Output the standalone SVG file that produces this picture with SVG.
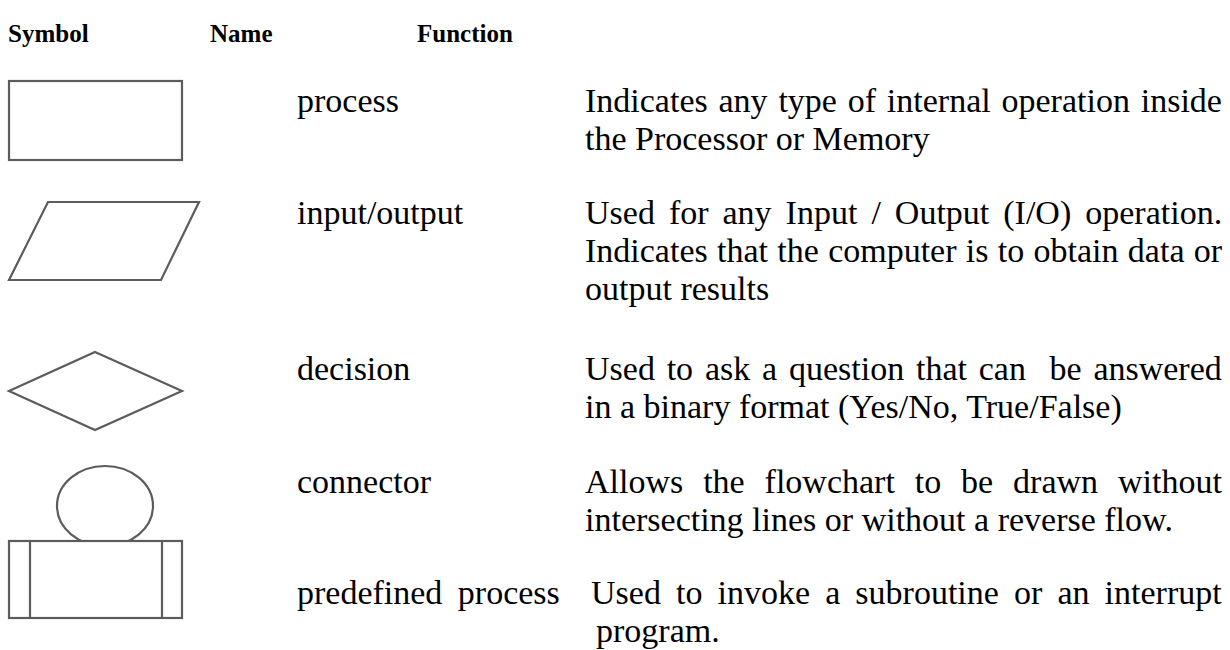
<svg xmlns="http://www.w3.org/2000/svg" width="1230" height="650" viewBox="0 0 1230 650">
  <style>
    text { font-family: 'Liberation Serif', 'Tinos', 'Times New Roman', 'DejaVu Serif', serif; fill: #000; }
    .head { font-size: 25px; font-weight: bold; }
    .body { font-size: 34px; }
    .shape { fill: #fff; stroke: #5c5c5c; stroke-width: 2.2; stroke-linejoin: miter; }
  </style>
  <rect width="1230" height="650" fill="#fff"/>

  <!-- column headers -->
  <g id="headers">
    <text class="head" x="8" y="42">Symbol</text>
    <text class="head" x="210" y="42">Name</text>
    <text class="head" x="417" y="42">Function</text>
  </g>

  <!-- process -->
  <g id="process">
    <rect class="shape" x="9" y="81" width="173" height="79"/>
    <text class="body" x="297" y="112">process</text>
    <text class="body" x="585" y="112" style="word-spacing:2.3px">Indicates any type of internal operation inside</text>
    <text class="body" x="585" y="150">the Processor or Memory</text>
  </g>

  <!-- input / output -->
  <g id="io">
    <polygon class="shape" points="48,202 199,202 161,280 9,280"/>
    <text class="body" x="297" y="224">input/output</text>
    <text class="body" x="585" y="224" style="word-spacing:5.5px">Used for any Input / Output (I/O) operation.</text>
    <text class="body" x="585" y="262" style="word-spacing:0.8px">Indicates that the computer is to obtain data or</text>
    <text class="body" x="585" y="300">output results</text>
  </g>

  <!-- decision -->
  <g id="decision">
    <polygon class="shape" points="95,352 182,391 95,430 9,391"/>
    <text class="body" x="297" y="380">decision</text>
    <text class="body" x="585" y="380" xml:space="preserve" style="white-space:pre;word-spacing:3.3px">Used to ask a question that can  be answered</text>
    <text class="body" x="585" y="418">in a binary format (Yes/No, True/False)</text>
  </g>

  <!-- connector -->
  <g id="connector">
    <ellipse class="shape" cx="105" cy="506" rx="48" ry="40"/>
    <text class="body" x="297" y="493">connector</text>
    <text class="body" x="585" y="493" style="word-spacing:11.4px">Allows the flowchart to be drawn without</text>
    <text class="body" x="585" y="531">intersecting lines or without a reverse flow.</text>
  </g>

  <!-- predefined process -->
  <g id="predefined">
    <rect class="shape" x="9" y="541" width="173" height="77"/>
    <line class="shape" x1="30" y1="541" x2="30" y2="618"/>
    <line class="shape" x1="162" y1="541" x2="162" y2="618"/>
    <text class="body" x="297" y="604" style="word-spacing:7px">predefined process</text>
    <text class="body" x="591" y="604" style="word-spacing:6.6px">Used to invoke a subroutine or an interrupt</text>
    <text class="body" x="596" y="642">program.</text>
  </g>

  <!-- no connectors between the symbols -->
  <g id="connectors"/>
</svg>
